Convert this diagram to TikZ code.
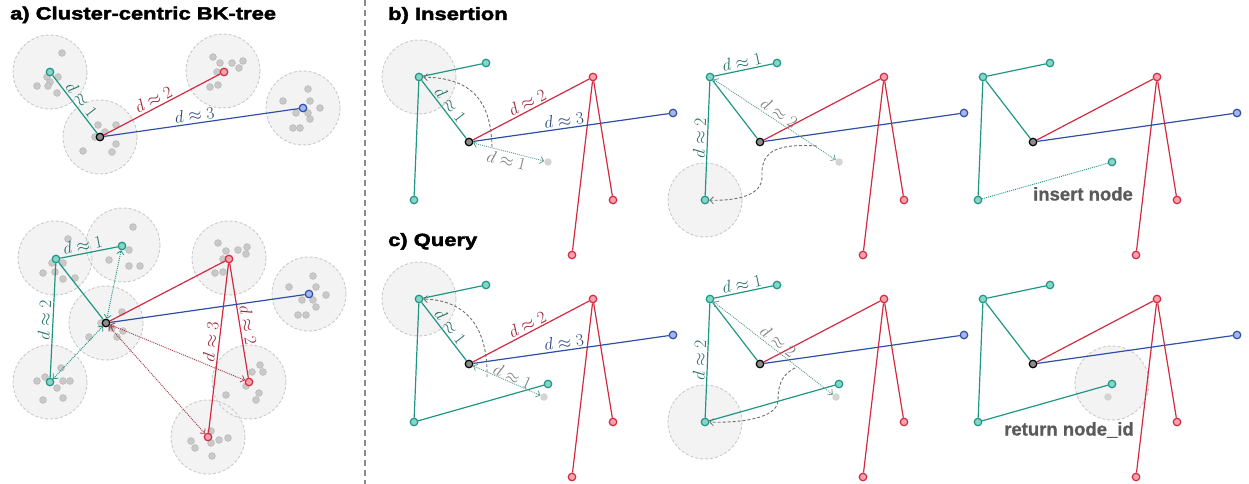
\documentclass[tikz,border=0pt]{standalone}
\usepackage{fontspec}
\newfontfamily\heavy{Liberation Sans}[BoldFeatures={FakeBold=2.4,FakeStretch=1.24}]
\newfontfamily\plainbold{Liberation Sans}[BoldFeatures={FakeBold=0.8}]
\usetikzlibrary{arrows.meta}
\pgfdeclarelayer{back}
\pgfdeclarelayer{mid}
\pgfsetlayers{back,mid,main}

\definecolor{tealE}{HTML}{1F9684}
\definecolor{tealF}{HTML}{86D6C8}
\definecolor{tealL}{HTML}{236F64}
\definecolor{redE}{HTML}{D42A40}
\definecolor{redF}{HTML}{F3A2AE}
\definecolor{redL}{HTML}{9A2236}
\definecolor{bluE}{HTML}{2E4FA6}
\definecolor{bluF}{HTML}{A6B6EA}
\definecolor{bluL}{HTML}{2B467F}
\definecolor{rootF}{HTML}{8C8C8C}
\definecolor{clFill}{HTML}{F3F3F3}
\definecolor{clLine}{HTML}{C9C9C9}
\definecolor{dotF}{HTML}{C9C9C9}
\definecolor{dotL}{HTML}{B3B3B3}
\definecolor{grayL}{HTML}{7A7A7A}
\definecolor{curveC}{HTML}{707070}
\definecolor{probeC}{HTML}{5E9F95}
\definecolor{redDot}{HTML}{A63445}
\definecolor{txtG}{HTML}{5A5A5A}
\definecolor{sepC}{HTML}{8A8A8A}

\tikzset{
  vtx/.style={circle, minimum size=7.5pt, inner sep=0pt, line width=1.2pt},
  kn/.style={vtx, fill=rootF, draw=black},
  tn/.style={vtx, fill=tealF, draw=tealE},
  rn/.style={vtx, fill=redF, draw=redE},
  bn/.style={vtx, fill=bluF, draw=bluE},
  qn/.style={circle, minimum size=7.5pt, inner sep=0pt, fill=dotF!80!white},
  tedge/.style={draw=tealE, line width=1.2pt},
  redge/.style={draw=redE, line width=1.2pt},
  bedge/.style={draw=bluE, line width=1.2pt},
  lab/.style={sloped, inner sep=2pt, font=\fontsize{16}{16}\selectfont},
  tlab/.style={lab, text=tealL},
  rlab/.style={lab, text=redL},
  blab/.style={lab, text=bluL},
  glab/.style={lab, text=grayL},
  barb/.tip={Straight Barb[length=3.5pt, width=7pt, line width=0.8pt]},
  probe/.style={line width=0.9pt, dash pattern=on 1pt off 1pt, barb-barb},
  tprobe/.style={probe, draw=tealE},
  rprobe/.style={probe, draw=redDot},
  gprobe/.style={probe, draw=probeC},
  hop/.style={draw=curveC, line width=0.9pt, dash pattern=on 3pt off 2pt, -barb},
  heading/.style={font=\heavy\bfseries\fontsize{17.7}{20}\selectfont, anchor=base west, inner sep=0pt},
  note/.style={font=\plainbold\bfseries\fontsize{18.5}{20}\selectfont, text=txtG, anchor=base, inner sep=0pt},
}

% cluster disc: fill first, dashed rim afterwards
\newcommand\clfill[1]{\fill[clFill] #1 circle (37);}
\newcommand\clrim[1]{\draw[clLine, line width=0.9pt, dash pattern=on 3pt off 2pt] #1 circle (37);}
\newcommand\pts[1]{\foreach \p in {#1}{\filldraw[fill=dotF, draw=dotL, line width=0.5pt] \p circle (3.4);}}

% the BK-tree used in panels b) and c), root at the local origin
\newcommand\bktree{%
  \node[kn] (r) at (0,0) {};
  \node[tn] (t1) at (-50,-65) {};
  \node[tn] (t2) at (17,-79) {};
  \node[tn] (t3) at (-55,58) {};
  \node[rn] (r1) at (124,-65) {};
  \node[rn] (r2) at (144,58) {};
  \node[rn] (r3) at (103,113) {};
  \node[bn] (b) at (204,-29) {};
  \begin{pgfonlayer}{mid}
    \draw[tedge] (r) -- (t1) (t1) -- (t2) (t1) -- (t3);
    \draw[redge] (r) -- (r1) (r1) -- (r2) (r1) -- (r3);
    \draw[bedge] (r) -- (b);
  \end{pgfonlayer}}

\begin{document}
\begin{tikzpicture}[x=1pt, y=-1pt]
\useasboundingbox (0,0) rectangle (1249,484);

% ---------- headings and separator ----------
\node[heading] (ha) at (10,19.5) {a) Cluster-centric BK-tree};
\node[heading] (hb) at (388,20) {b) Insertion};
\node[heading] (hc) at (388,246) {c) Query};
\coordinate (s0) at (365,0);
\coordinate (s1) at (365,484);
\draw[sepC, line width=1.6pt, dash pattern=on 6pt off 4pt] (s0) -- (s1);

% ---------- a) upper tree ----------
\begin{pgfonlayer}{back}
  \foreach \c in {(50,72),(100,137),(223,71),(303,108)} {\clfill{\c}}
  \foreach \c in {(50,72),(100,137),(223,71),(303,108)} {\clrim{\c}}
  \pts{(62,53),(47,77),(58,77),(50,82),(37,86),(48,86),(57,93)}
  \pts{(98,125),(116,125),(95,137),(105,132),(116,144),(112,152),(83,151)}
  \pts{(213,57),(220,63),(232,63),(243,61),(239,68),(217,72),(210,87),(218,85)}
  \pts{(308,89),(283,101),(310,101),(320,108),(296,113),(308,113),(310,119),(293,128),(300,128)}
\end{pgfonlayer}
\node[kn] (ar) at (100,137) {};
\node[tn] (at) at (50,72) {};
\node[rn] (ad) at (224,72) {};
\node[bn] (ab) at (303,108) {};
\begin{pgfonlayer}{mid}
  \draw[tedge] (at) -- (ar) node[tlab, midway, above] {$d\approx1$};
  \draw[redge] (ar) -- (ad) node[rlab, pos=0.46, above] {$d\approx2$};
  \draw[bedge] (ar) -- (ab) node[blab, pos=0.47, above] {$d\approx3$};
\end{pgfonlayer}

% ---------- a) lower tree with probe distances ----------
\begin{pgfonlayer}{back}
  \foreach \c in {(55,258),(123,245),(106,323),(50,382),(229,258),(309,294),(249,382),(208,437)} {\clfill{\c}}
  \foreach \c in {(55,258),(123,245),(106,323),(50,382),(229,258),(309,294),(249,382),(208,437)} {\clrim{\c}}
  \pts{(68,239),(52,263),(63,263),(55,272),(43,273),(63,279),(75,278)}
  \pts{(133,227),(129,250),(109,260),(129,266),(140,266)}
  \pts{(122,312),(101,323),(123,331),(89,337),(117,337),(112,328)}
  \pts{(61,368),(37,381),(45,377),(63,381),(70,381),(57,388),(43,400),(63,398)}
  \pts{(218,243),(226,251),(238,250),(247,247),(246,254),(223,259),(215,273),(223,272)}
  \pts{(313,276),(289,287),(316,287),(326,295),(302,300),(313,300),(316,307),(298,315),(306,315)}
  \pts{(260,365),(252,372),(263,372),(246,386),(259,393),(226,395),(256,400)}
  \pts{(211,431),(191,441),(211,443),(219,440),(228,438),(195,448),(212,456)}
\end{pgfonlayer}
\node[kn] (lr) at (106,323) {};
\node[tn] (la) at (56,259) {};
\node[tn] (lb) at (122,246) {};
\node[tn] (lc) at (50,382) {};
\node[rn] (ld) at (229,259) {};
\node[bn] (le) at (309,294) {};
\node[rn] (lf) at (249,382) {};
\node[rn] (lg) at (208,437) {};
\begin{pgfonlayer}{mid}
  \draw[tedge] (la) -- (lr);
  \draw[tedge] (la) -- (lb) node[tlab, pos=0.42, above] {$d\approx1$};
  \draw[tedge] (lc) -- (la) node[tlab, midway, above] {$d\approx2$};
  \draw[redge] (lr) -- (ld);
  \draw[redge] (lg) -- (ld) node[rlab, pos=0.53, above] {$d\approx3$};
  \draw[redge] (ld) -- (lf) node[rlab, pos=0.55, above] {$d\approx2$};
  \draw[bedge] (lr) -- (le);
  \draw[tprobe] (lr) -- (lb);
  \draw[tprobe] (lr) -- (lc);
  \draw[rprobe] (lr) -- (lf);
  \draw[rprobe] (lr) -- (lg);
\end{pgfonlayer}

% ---------- b) insertion ----------
\begin{scope}[shift={(469,142)}, name prefix=b1-]
  \bktree
\end{scope}
\begin{scope}[shift={(760,142)}, name prefix=b2-]
  \bktree
\end{scope}
\begin{scope}[shift={(1033,142)}, name prefix=b3-]
  \bktree
\end{scope}

% step 1: compare with the root
\begin{pgfonlayer}{back}\clfill{(b1-t1)}\clrim{(b1-t1)}\end{pgfonlayer}
\node[qn] (b1-q) at (548,162) {};
\path (b1-t1) -- (b1-r) node[tlab, midway, above] {$d\approx1$};
\path (b1-r) -- (b1-r1) node[rlab, pos=0.5, above] {$d\approx2$};
\path (b1-r) -- (b1-b) node[blab, pos=0.47, above] {$d\approx3$};
\begin{pgfonlayer}{mid}
  \draw[gprobe] (b1-r) -- (b1-q) node[glab, midway, below] {$d\approx1$};
  \coordinate (b1-s) at (492,147);
  \draw[hop] (b1-s) .. controls (491,95) and (466,78) .. (b1-t1);
\end{pgfonlayer}

% step 2: descend to the child at distance 1
\begin{pgfonlayer}{back}\clfill{(b2-t3)}\clrim{(b2-t3)}\end{pgfonlayer}
\node[qn] (b2-q) at (839,162) {};
\path (b2-t1) -- (b2-t2) node[tlab, midway, above] {$d\approx1$};
\path (b2-t3) -- (b2-t1) node[tlab, midway, above] {$d\approx2$};
\begin{pgfonlayer}{mid}
  \draw[gprobe] (b2-t1) -- (b2-q) node[glab, midway, above] {$d\approx2$};
  \coordinate (b2-s) at (817,146);
  \coordinate (b2-m) at (762,176);
  \draw[hop] (b2-s) .. controls (772,143) and (761,154) .. (b2-m) .. controls (763,196) and (735,201) .. (b2-t3);
\end{pgfonlayer}

% step 3: attach the new node
\node[tn] (b3-n) at (1112,162) {};
\begin{pgfonlayer}{mid}
  \draw[tedge, line width=0.9pt, dash pattern=on 1pt off 1pt] (b3-t3) -- (b3-n);
\end{pgfonlayer}
\node[note] (b3-txt) at (1083,200.5) {insert node};

% ---------- c) query ----------
\begin{scope}[shift={(469,364)}, name prefix=c1-]
  \bktree
\end{scope}
\begin{scope}[shift={(760,364)}, name prefix=c2-]
  \bktree
\end{scope}
\begin{scope}[shift={(1033,364)}, name prefix=c3-]
  \bktree
\end{scope}

% step 1
\begin{pgfonlayer}{back}\clfill{(c1-t1)}\clrim{(c1-t1)}\end{pgfonlayer}
\node[tn] (c1-n) at (548,384) {};
\node[qn] (c1-q) at (544,397) {};
\path (c1-t1) -- (c1-r) node[tlab, midway, above] {$d\approx1$};
\path (c1-r) -- (c1-r1) node[rlab, pos=0.5, above] {$d\approx2$};
\path (c1-r) -- (c1-b) node[blab, pos=0.47, above] {$d\approx3$};
\begin{pgfonlayer}{mid}
  \draw[tedge] (c1-t3) -- (c1-n);
  \draw[gprobe] (c1-r) -- (c1-q) node[glab, pos=0.55, above, inner sep=0pt] {$d\approx1$};
  \coordinate (c1-s) at (487,377);
  \draw[hop] (c1-s) .. controls (488,327) and (466,300) .. (c1-t1);
\end{pgfonlayer}

% step 2
\begin{pgfonlayer}{back}\clfill{(c2-t3)}\clrim{(c2-t3)}\end{pgfonlayer}
\node[tn] (c2-n) at (839,384) {};
\node[qn] (c2-q) at (836,397) {};
\path (c2-t1) -- (c2-t2) node[tlab, midway, above] {$d\approx1$};
\path (c2-t3) -- (c2-t1) node[tlab, midway, above] {$d\approx2$};
\begin{pgfonlayer}{mid}
  \draw[tedge] (c2-t3) -- (c2-n);
  \draw[gprobe] (c2-t1) -- (c2-q) node[glab, midway, above] {$d\approx2$};
  \coordinate (c2-s) at (795,368);
  \coordinate (c2-m) at (778,400);
  \draw[hop] (c2-s) .. controls (781,375) and (778,386) .. (c2-m) .. controls (778,418) and (742,423) .. (c2-t3);
\end{pgfonlayer}

% step 3: the nearest stored node is returned
\begin{pgfonlayer}{back}\clfill{(1112,383)}\clrim{(1112,383)}\end{pgfonlayer}
\node[tn] (c3-n) at (1112,384) {};
\node[qn] (c3-q) at (1108,397) {};
\begin{pgfonlayer}{mid}
  \draw[tedge] (c3-t3) -- (c3-n);
\end{pgfonlayer}
\node[note] (c3-txt) at (1069,435.5) {return node\_id};

\end{tikzpicture}
\end{document}
